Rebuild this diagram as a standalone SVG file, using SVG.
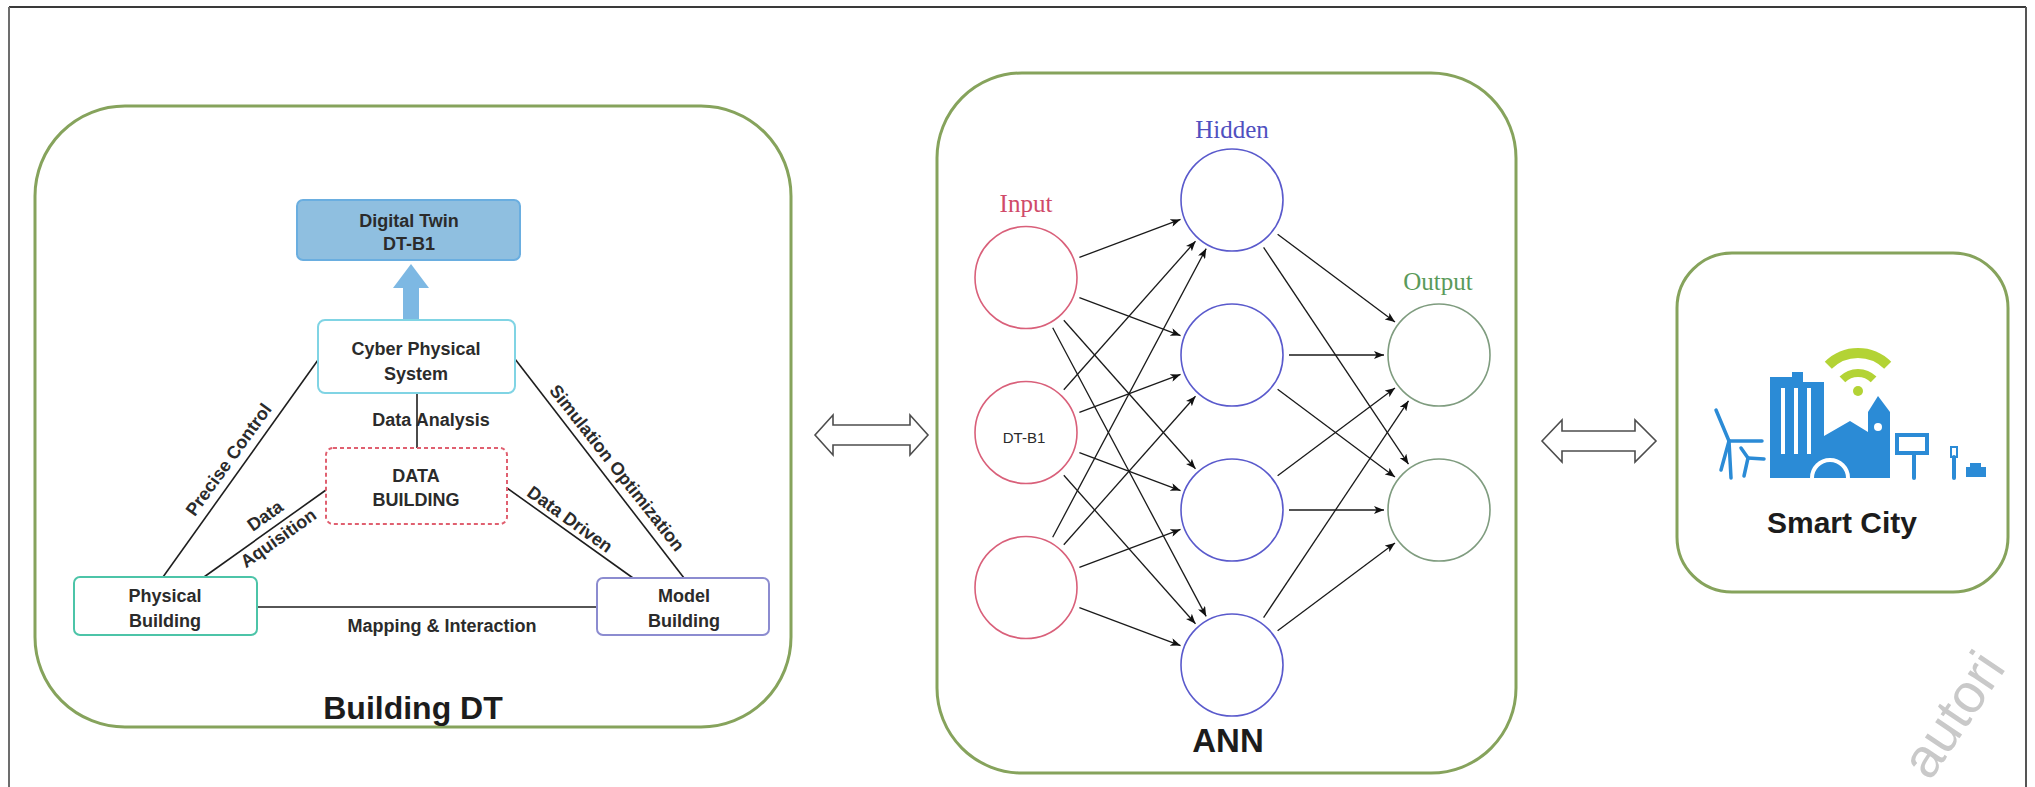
<svg xmlns="http://www.w3.org/2000/svg" width="2035" height="787" viewBox="0 0 2035 787">
  <defs>
    <style>
      .panel { fill: #ffffff; stroke: #86a35c; stroke-width: 3; }
      .box { fill: #ffffff; stroke-width: 2; }
      .lbl { font-family: "Liberation Sans", Arial, sans-serif; font-weight: bold; font-size: 18px; fill: #2b2b2b; }
      .mid { text-anchor: middle; }
      .link { stroke: #1e1e1e; stroke-width: 1.6; fill: none; }
      .edge { stroke: #1a1a1a; stroke-width: 1.3; fill: none; marker-end: url(#tip); }
      .neuron { fill: #ffffff; stroke-width: 1.6; }
      .layer { font-family: "Liberation Serif", "DejaVu Serif", serif; font-size: 25px; text-anchor: middle; }
      .title { font-family: "Liberation Sans", Arial, sans-serif; font-weight: bold; text-anchor: middle; fill: #1c1c1c; }
      .twin { fill: #ffffff; stroke: #4d4d4d; stroke-width: 1.6; }
      .icon { fill: #2b8bd6; }
      .iconline { stroke: #2b8bd6; fill: none; stroke-linecap: round; }
      .wifi { stroke: #b3d335; fill: none; }
    </style>
    <marker id="tip" viewBox="0 0 10 8" refX="10" refY="4" markerWidth="10" markerHeight="8" markerUnits="userSpaceOnUse" orient="auto">
      <path d="M0,0 L10,4 L0,8 L2.5,4 Z" fill="#111111"/>
    </marker>
  </defs>

  <rect width="2035" height="787" fill="#ffffff"/>

  <!-- page frame -->
  <g id="frame" stroke="#3a3a3a" stroke-width="2" fill="none">
    <line x1="9" y1="7" x2="2026" y2="7"/>
    <line x1="9" y1="7" x2="9" y2="787" stroke="#6d6d6d"/>
    <line x1="2026" y1="7" x2="2026" y2="787" stroke="#555555"/>
  </g>

  <!-- ===== Building DT ===== -->
  <g id="building-dt">
    <rect class="panel" x="35" y="106" width="756" height="621" rx="90" ry="90"/>
    <text class="title" x="413" y="719" font-size="32">Building DT</text>
  </g>

  <g id="connectors-building">
    <line class="link" x1="417" y1="393" x2="417" y2="448"/>
    <line class="link" x1="163" y1="577" x2="318" y2="360"/>
    <line class="link" x1="204" y1="577" x2="326" y2="490"/>
    <line class="link" x1="507" y1="488" x2="633" y2="578"/>
    <line class="link" x1="515" y1="359" x2="684" y2="578"/>
    <line class="link" x1="257" y1="607" x2="597" y2="607" stroke-width="2"/>
    <!-- upward block arrow from CPS to the twin -->
    <polygon points="403,320 419,320 419,288 429,288 411,264 393,288 403,288" fill="#7db8e3"/>
    <text class="lbl mid" x="431" y="426">Data Analysis</text>
    <text class="lbl mid" x="442" y="632">Mapping &amp; Interaction</text>
    <text class="lbl mid" transform="translate(240,468) rotate(-54.3)" x="0" y="-8">Precise Control</text>
    <g transform="translate(265,533) rotate(-35.2)">
      <text class="lbl mid" x="10" y="-8">Data</text>
      <text class="lbl mid" x="8" y="18">Aquisition</text>
    </g>
    <text class="lbl mid" transform="translate(570,533) rotate(35.8)" x="-8" y="-5">Data Driven</text>
    <text class="lbl mid" transform="translate(599,468) rotate(51.8)" x="11" y="-8">Simulation Optimization</text>
  </g>

  <g id="digital-twin">
    <rect x="297" y="200" width="223" height="60" rx="6" fill="#8fbfe0" stroke="#6aaee0" stroke-width="2"/>
    <text class="lbl mid" x="409" y="227" fill="#1f2a40">Digital Twin</text>
    <text class="lbl mid" x="409" y="250" fill="#1f2a40">DT-B1</text>
  </g>

  <g id="cyber-physical-system">
    <rect class="box" x="318" y="320" width="197" height="73" rx="7" stroke="#80d4e4"/>
    <text class="lbl mid" x="416" y="355">Cyber Physical</text>
    <text class="lbl mid" x="416" y="380">System</text>
  </g>

  <g id="data-building">
    <rect class="box" x="326" y="448" width="181" height="76" rx="7" stroke="#e06070" stroke-dasharray="4 3"/>
    <text class="lbl mid" x="416" y="482">DATA</text>
    <text class="lbl mid" x="416" y="506">BUILDING</text>
  </g>

  <g id="physical-building">
    <rect class="box" x="74" y="577" width="183" height="58" rx="6" stroke="#4cc4a8"/>
    <text class="lbl mid" x="165" y="602">Physical</text>
    <text class="lbl mid" x="165" y="627">Building</text>
  </g>

  <g id="model-building">
    <rect class="box" x="597" y="578" width="172" height="57" rx="6" stroke="#8c8cd0"/>
    <text class="lbl mid" x="684" y="602">Model</text>
    <text class="lbl mid" x="684" y="627">Building</text>
  </g>

  <!-- two-way links between panels -->
  <g id="panel-links">
    <polygon class="twin" points="815,435 833,415 833,425 910,425 910,415 928,435 910,455 910,445 833,445 833,455"/>
    <polygon class="twin" points="1542,441 1562,420 1562,431 1635,431 1635,420 1656,441 1635,462 1635,451 1562,451 1562,462"/>
  </g>

  <!-- ===== ANN ===== -->
  <g id="ann">
    <rect class="panel" x="937" y="73" width="579" height="700" rx="85" ry="85"/>
    <text class="title" x="1228" y="752" font-size="33">ANN</text>
    <text class="layer" x="1026" y="212" fill="#d04a6a">Input</text>
    <text class="layer" x="1232" y="138" fill="#5050c0">Hidden</text>
    <text class="layer" x="1438" y="290" fill="#5a9a5a">Output</text>
  </g>

  <g id="ann-edges">
    <line class="edge" x1="1079.4" y1="257.4" x2="1180.5" y2="219.4"/>
    <line class="edge" x1="1079.4" y1="297.6" x2="1180.5" y2="335.6"/>
    <line class="edge" x1="1063.8" y1="320.2" x2="1195.5" y2="468.8"/>
    <line class="edge" x1="1052.7" y1="327.8" x2="1206.2" y2="616.4"/>
    <line class="edge" x1="1063.8" y1="389.8" x2="1195.5" y2="241.2"/>
    <line class="edge" x1="1079.4" y1="412.4" x2="1180.5" y2="374.4"/>
    <line class="edge" x1="1079.4" y1="452.6" x2="1180.5" y2="490.6"/>
    <line class="edge" x1="1063.8" y1="475.2" x2="1195.5" y2="623.8"/>
    <line class="edge" x1="1052.7" y1="537.2" x2="1206.2" y2="248.6"/>
    <line class="edge" x1="1063.8" y1="544.8" x2="1195.5" y2="396.2"/>
    <line class="edge" x1="1079.4" y1="567.4" x2="1180.5" y2="529.4"/>
    <line class="edge" x1="1079.4" y1="607.6" x2="1180.5" y2="645.6"/>
    <line class="edge" x1="1277.6" y1="234.2" x2="1395" y2="322.1"/>
    <line class="edge" x1="1263.6" y1="247.4" x2="1408.5" y2="464.2"/>
    <line class="edge" x1="1289" y1="355" x2="1384" y2="355"/>
    <line class="edge" x1="1277.6" y1="389.2" x2="1395" y2="477.1"/>
    <line class="edge" x1="1277.6" y1="475.8" x2="1395" y2="387.9"/>
    <line class="edge" x1="1289" y1="510" x2="1384" y2="510"/>
    <line class="edge" x1="1263.6" y1="617.6" x2="1408.5" y2="400.8"/>
    <line class="edge" x1="1277.6" y1="630.8" x2="1395" y2="542.9"/>
  </g>

  <g id="input-1"><circle class="neuron" cx="1026" cy="277.5" r="51" stroke="#d9607a"/></g>
  <g id="input-2">
    <circle class="neuron" cx="1026" cy="432.5" r="51" stroke="#d9607a"/>
    <text x="1024" y="443" font-family="Liberation Sans, Arial, sans-serif" font-size="15" text-anchor="middle" fill="#2a2a2a">DT-B1</text>
  </g>
  <g id="input-3"><circle class="neuron" cx="1026" cy="587.5" r="51" stroke="#d9607a"/></g>
  <g id="hidden-1"><circle class="neuron" cx="1232" cy="200" r="51" stroke="#5a5acc"/></g>
  <g id="hidden-2"><circle class="neuron" cx="1232" cy="355" r="51" stroke="#5a5acc"/></g>
  <g id="hidden-3"><circle class="neuron" cx="1232" cy="510" r="51" stroke="#5a5acc"/></g>
  <g id="hidden-4"><circle class="neuron" cx="1232" cy="665" r="51" stroke="#5a5acc"/></g>
  <g id="output-1"><circle class="neuron" cx="1439" cy="355" r="51" stroke="#7f9c7f"/></g>
  <g id="output-2"><circle class="neuron" cx="1439" cy="510" r="51" stroke="#7f9c7f"/></g>

  <!-- ===== Smart City ===== -->
  <g id="smart-city">
    <rect class="panel" x="1677" y="253" width="331" height="339" rx="55" ry="55" stroke="#93bb62"/>
    <!-- wind turbines -->
    <g class="iconline" stroke-width="3.5">
      <line x1="1729" y1="441" x2="1731" y2="478"/>
      <line x1="1729" y1="441" x2="1716" y2="410"/>
      <line x1="1729" y1="441" x2="1762" y2="441"/>
      <line x1="1729" y1="441" x2="1721" y2="470"/>
      <line x1="1748" y1="458" x2="1741" y2="448"/>
      <line x1="1748" y1="458" x2="1764" y2="459"/>
      <line x1="1748" y1="458" x2="1744" y2="476"/>
    </g>
    <!-- towers, hill and church -->
    <polygon class="icon" points="1770,478 1770,377 1792,377 1792,372 1803,372 1803,382 1824,382 1824,436 1850,421 1868,432 1868,412 1878,396 1890,412 1890,478"/>
    <g fill="#ffffff">
      <rect x="1781" y="388" width="4" height="66"/>
      <rect x="1794" y="388" width="4" height="66"/>
      <rect x="1807" y="388" width="4" height="66"/>
      <circle cx="1878" cy="427" r="4"/>
    </g>
    <path d="M1812,478 A18,18 0 0 1 1848,478" stroke="#ffffff" stroke-width="4" fill="none"/>
    <!-- billboard, lamp and car -->
    <rect x="1897" y="435" width="30" height="18" fill="#ffffff" stroke="#2b8bd6" stroke-width="4"/>
    <line class="iconline" x1="1914" y1="453" x2="1914" y2="478" stroke-width="4"/>
    <rect x="1951" y="447" width="6" height="10" fill="#ffffff" stroke="#2b8bd6" stroke-width="2"/>
    <line class="iconline" x1="1954" y1="457" x2="1954" y2="478" stroke-width="4"/>
    <rect class="icon" x="1966" y="467" width="20" height="10"/>
    <rect class="icon" x="1970" y="463" width="11" height="5"/>
    <!-- wireless signal -->
    <circle cx="1858" cy="391" r="5" fill="#b3d335"/>
    <path class="wifi" d="M1842.4,379.4 A22,22 0 0 1 1873.6,379.4" stroke-width="8"/>
    <path class="wifi" d="M1828.3,365.3 A42,42 0 0 1 1887.7,365.3" stroke-width="10"/>
    <text class="title" x="1842" y="533" font-size="30">Smart City</text>
  </g>

  <!-- corner stamp -->
  <text x="0" y="0" transform="translate(1930,782) rotate(-56)" font-family="Liberation Sans, Arial, sans-serif" font-size="55" fill="#c9c9c9">autori</text>
</svg>
